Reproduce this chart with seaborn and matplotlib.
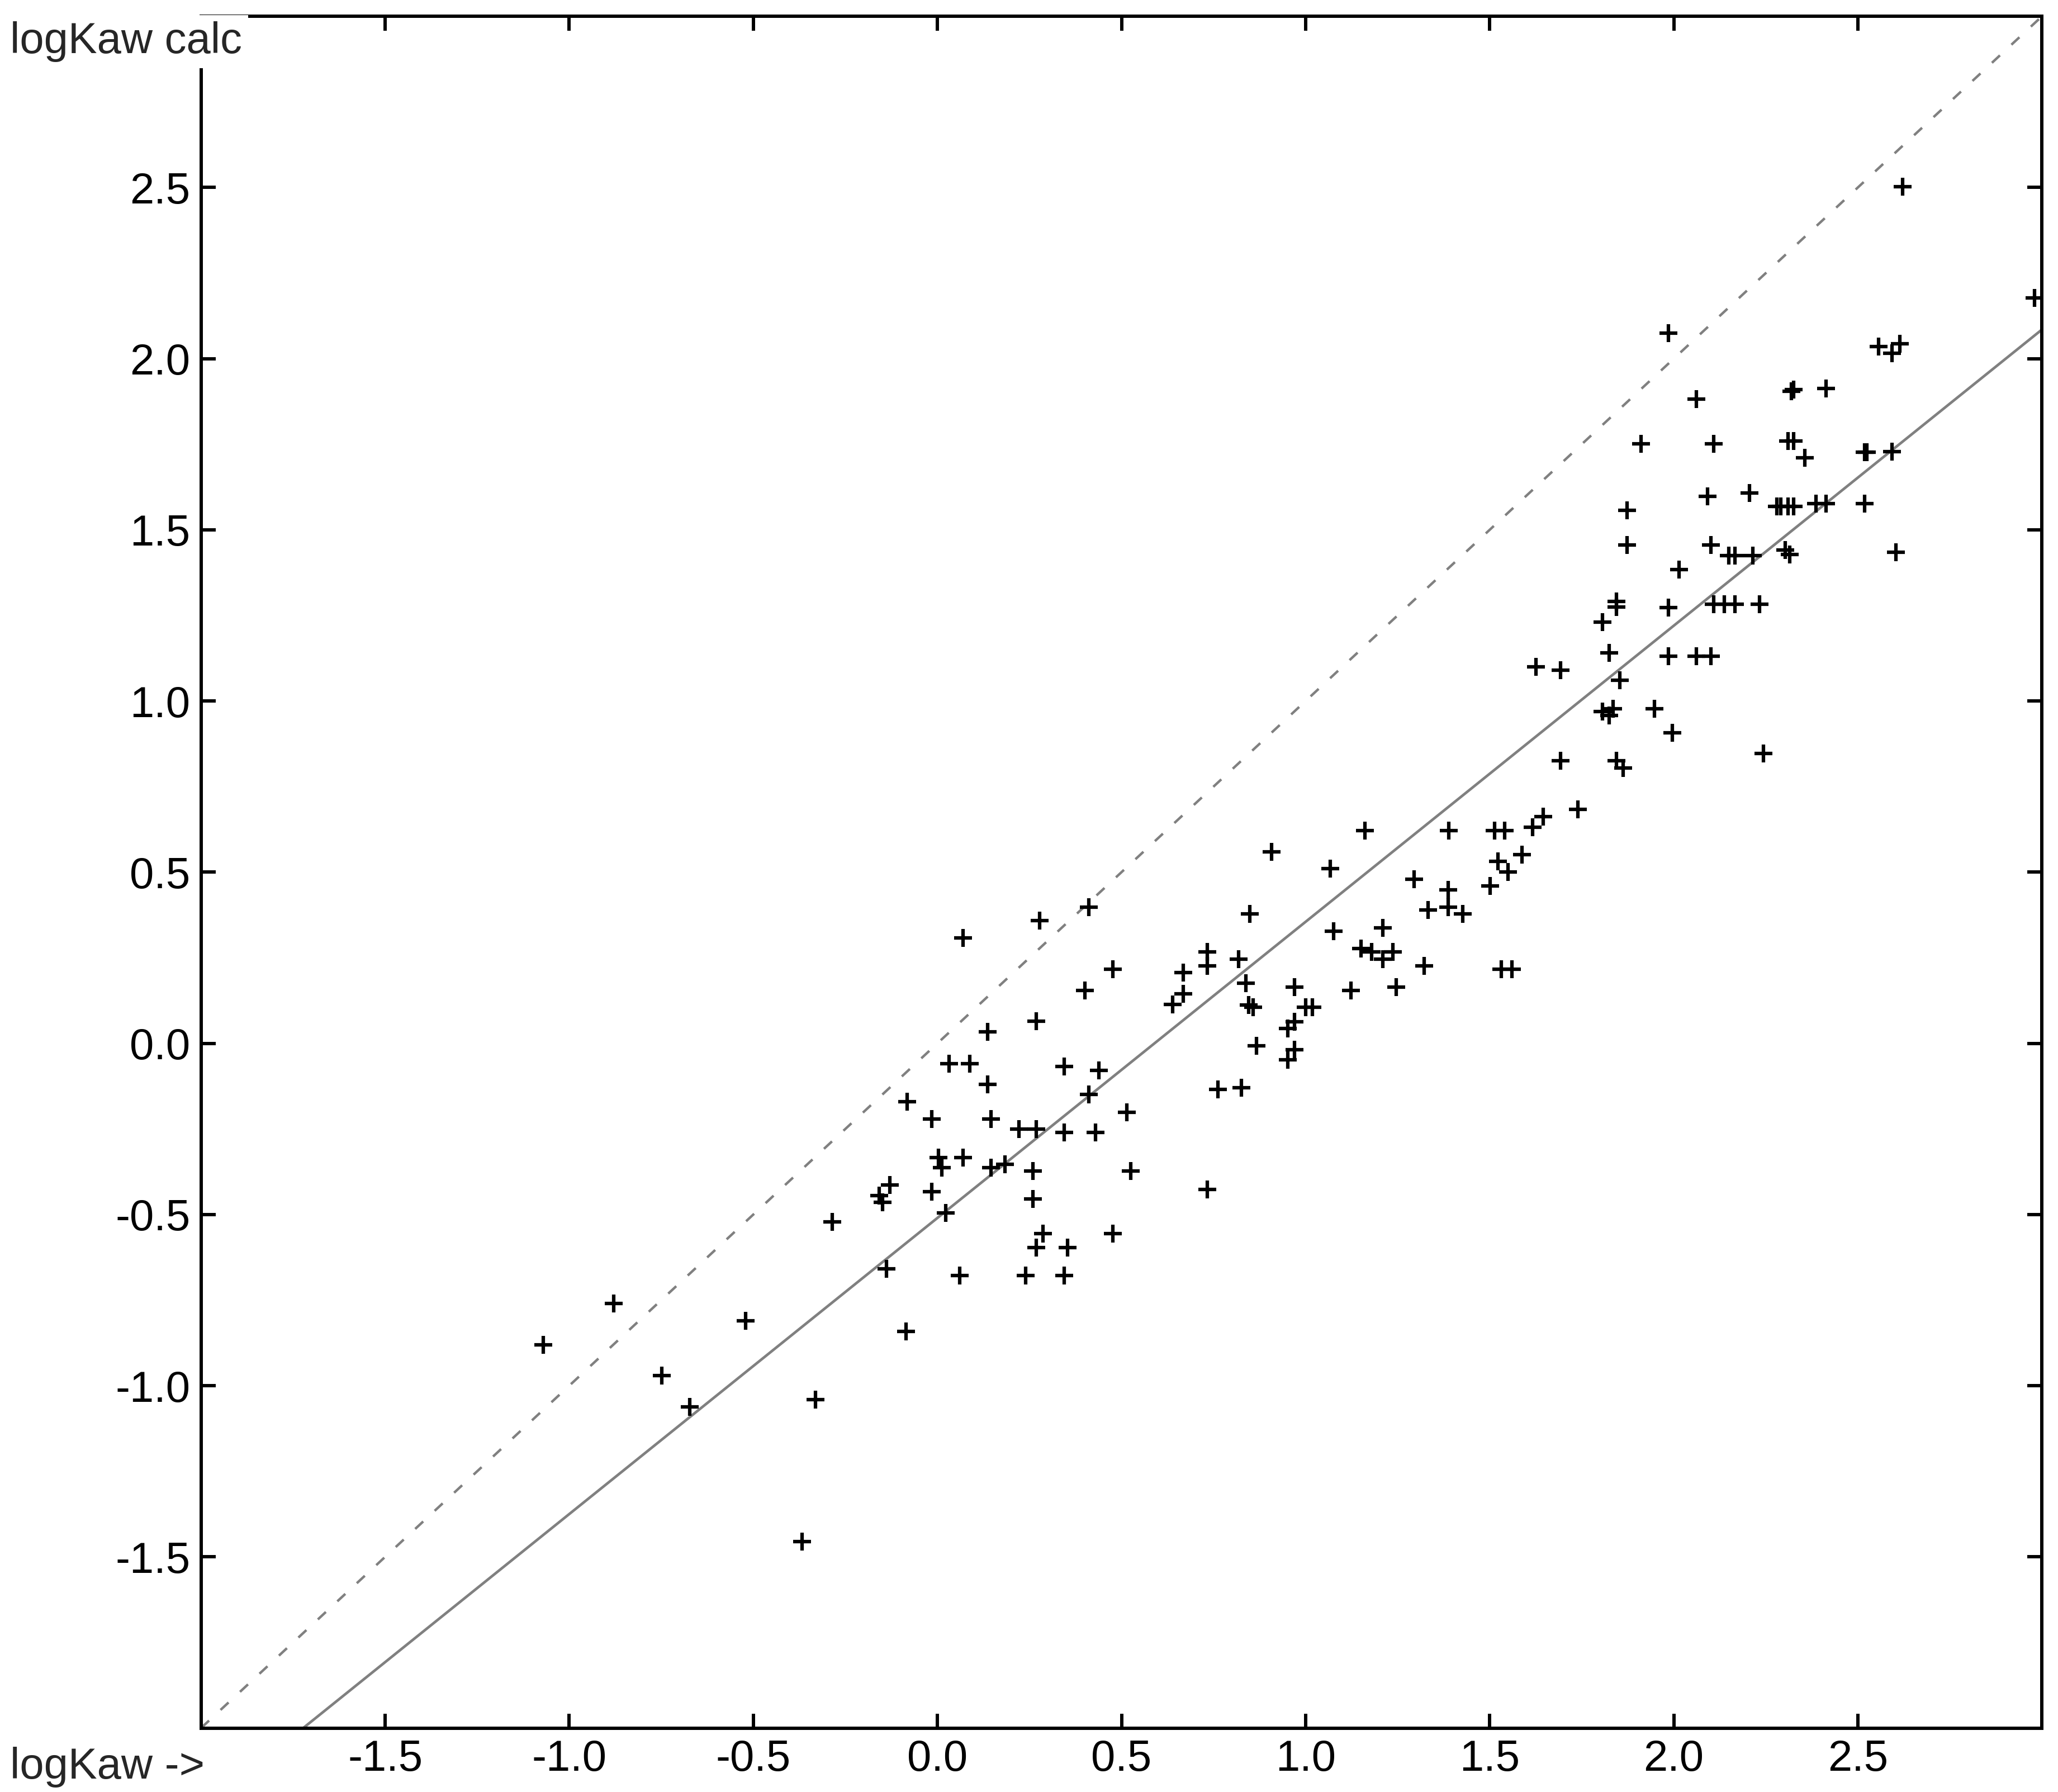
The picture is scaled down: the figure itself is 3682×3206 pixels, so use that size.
import numpy as np
import pandas as pd
import matplotlib
matplotlib.use("Agg")
import matplotlib.pyplot as plt
from matplotlib.ticker import FormatStrFormatter
import seaborn as sns

logkaw_exp = [
    -1.070, -0.879, -0.748, -0.672, -0.521, -0.368, -0.331, -0.286, -0.086,
    0.003, 0.012, 0.069, 0.145, 0.183, 0.259, 0.525,
    -0.130, -0.158, -0.149, -0.016, 0.022, 0.259, 0.287, 0.477, 0.268, 0.354,
    -0.139, 0.060, 0.240, 0.344,
    0.411, 0.278, 0.069, 0.477, 0.401, 0.268, 0.136,
    0.032, 0.088, 0.344, 0.439, 0.136, 0.411,
    -0.082, -0.016, 0.145, 0.515, 0.221, 0.268, 0.344, 0.430,
    1.388, 1.388, 1.501, 1.332, 1.427, 0.848, 1.076, 1.209,
    0.733, 0.733, 0.818, 0.668, 0.668, 0.639,
    1.151, 1.179, 1.237, 1.209,
    1.322, 1.531, 1.561, 0.838, 0.970, 1.123, 1.246,
    0.846, 0.857, 1.000, 1.019, 0.970, 0.951, 0.866, 0.970, 0.951,
    0.762, 0.826, 0.908, 0.733,
    1.626, 1.692, 1.692, 1.740, 1.646, 1.617, 1.161, 1.389, 1.513, 1.541,
    1.588, 1.522, 1.550, 1.067, 1.294,
    1.806, 1.825, 1.986, 2.062, 2.101, 1.854,
    1.806, 1.835, 1.825, 1.948, 1.996, 2.243, 1.844, 1.863,
    1.986, 2.556, 2.593, 2.614, 2.062, 2.320, 2.326, 2.413,
    1.911, 2.109, 2.310, 2.326, 2.356, 2.518, 2.524, 2.593,
    2.091, 2.205, 2.280, 2.291, 2.310, 2.326, 2.386, 2.413, 2.518,
    1.873, 1.873, 2.101, 2.149, 2.166, 2.215, 2.303, 2.315, 2.603,
    2.015, 1.844, 1.844, 1.986, 2.109, 2.137, 2.166, 2.233,
    2.622, 2.980,
]
logkaw_calc = [
    -0.881, -0.760, -0.971, -1.062, -0.810, -1.455, -1.041, -0.522, -0.841,
    -0.333, -0.363, -0.333, -0.363, -0.353, -0.373, -0.373,
    -0.414, -0.445, -0.465, -0.434, -0.495, -0.454, -0.556, -0.556, -0.597, -0.597,
    -0.658, -0.679, -0.679, -0.679,
    0.397, 0.358, 0.308, 0.216, 0.155, 0.064, 0.033,
    -0.059, -0.059, -0.068, -0.079, -0.120, -0.150,
    -0.170, -0.221, -0.221, -0.201, -0.251, -0.251, -0.261, -0.261,
    0.449, 0.398, 0.460, 0.389, 0.378, 0.378, 0.328, 0.337,
    0.267, 0.226, 0.246, 0.206, 0.144, 0.114,
    0.277, 0.267, 0.267, 0.246,
    0.226, 0.216, 0.216, 0.175, 0.164, 0.155, 0.164,
    0.112, 0.106, 0.105, 0.105, 0.063, 0.044, -0.008, -0.018, -0.048,
    -0.135, -0.130, 0.559, -0.427,
    1.099, 1.090, 0.826, 0.683, 0.663, 0.631, 0.622, 0.622, 0.622, 0.622,
    0.551, 0.531, 0.500, 0.510, 0.480,
    1.231, 1.140, 1.131, 1.131, 1.131, 1.060,
    0.969, 0.977, 0.958, 0.977, 0.907, 0.846, 0.826, 0.804,
    2.075, 2.035, 2.016, 2.044, 1.882, 1.904, 1.910, 1.913,
    1.751, 1.751, 1.760, 1.760, 1.710, 1.726, 1.726, 1.729,
    1.598, 1.608, 1.568, 1.568, 1.568, 1.568, 1.577, 1.577, 1.577,
    1.557, 1.455, 1.455, 1.424, 1.424, 1.424, 1.441, 1.428, 1.435,
    1.384, 1.291, 1.274, 1.273, 1.283, 1.283, 1.283, 1.283,
    2.502, 2.177,
]

# reta de ajuste e limites dos eixos
fit_slope = 0.865
fit_intercept = -0.510
eixo_lim = [-2.0, 3.0]
ticks = [-1.5, -1.0, -0.5, 0.0, 0.5, 1.0, 1.5, 2.0, 2.5]

df = pd.DataFrame({"exp": logkaw_exp, "calc": logkaw_calc})

# --- Configurações visuais ---
sns.set_theme(style="white")
plt.rcParams["font.family"] = ["Liberation Sans Narrow", "Liberation Sans", "DejaVu Sans"]
plt.rcParams["axes.unicode_minus"] = False

fig = plt.figure(figsize=(36.82, 32.06), dpi=100)
ax = fig.add_axes([0.0977, 0.0357, 0.9922 - 0.0977, 0.9909 - 0.0357])

cinza = "#808080"
# linha 1:1 tracejada e reta de regressão
ax.axline((0, 0), slope=1, color=cinza, lw=3.2, linestyle=(0, (4.4, 6.3)), zorder=1)
ax.axline((0, fit_intercept), slope=fit_slope, color=cinza, lw=3.4, zorder=1)

sns.scatterplot(data=df, x="exp", y="calc", marker="+", color="black",
                s=500, linewidth=4.5, ax=ax, zorder=3)

ax.set_xlim(eixo_lim)
ax.set_ylim(eixo_lim)
ax.set_xticks(ticks)
ax.set_yticks(ticks)
ax.xaxis.set_major_formatter(FormatStrFormatter("%.1f"))
ax.yaxis.set_major_formatter(FormatStrFormatter("%.1f"))
ax.set_xlabel("")
ax.set_ylabel("")

for lado in ["left", "right", "top", "bottom"]:
    ax.spines[lado].set_visible(True)
    ax.spines[lado].set_color("black")
    ax.spines[lado].set_linewidth(4.3)

ax.tick_params(axis="both", which="major", direction="in", length=19, width=4.3,
               color="black", labelsize=56, labelcolor="black", pad=14,
               top=True, right=True, bottom=True, left=True,
               labeltop=False, labelright=False)

# rótulos dos eixos no canto
fig.text(0.005, 0.9704, "logKaw calc", ha="left", va="baseline", fontsize=56,
         bbox=dict(facecolor="white", edgecolor="none", pad=8), zorder=10)
fig.text(0.005, 0.0075, "logKaw ->", ha="left", va="baseline", fontsize=56)

plt.savefig("out.png", dpi=100, facecolor="white")
print("Gráfico salvo: out.png")
